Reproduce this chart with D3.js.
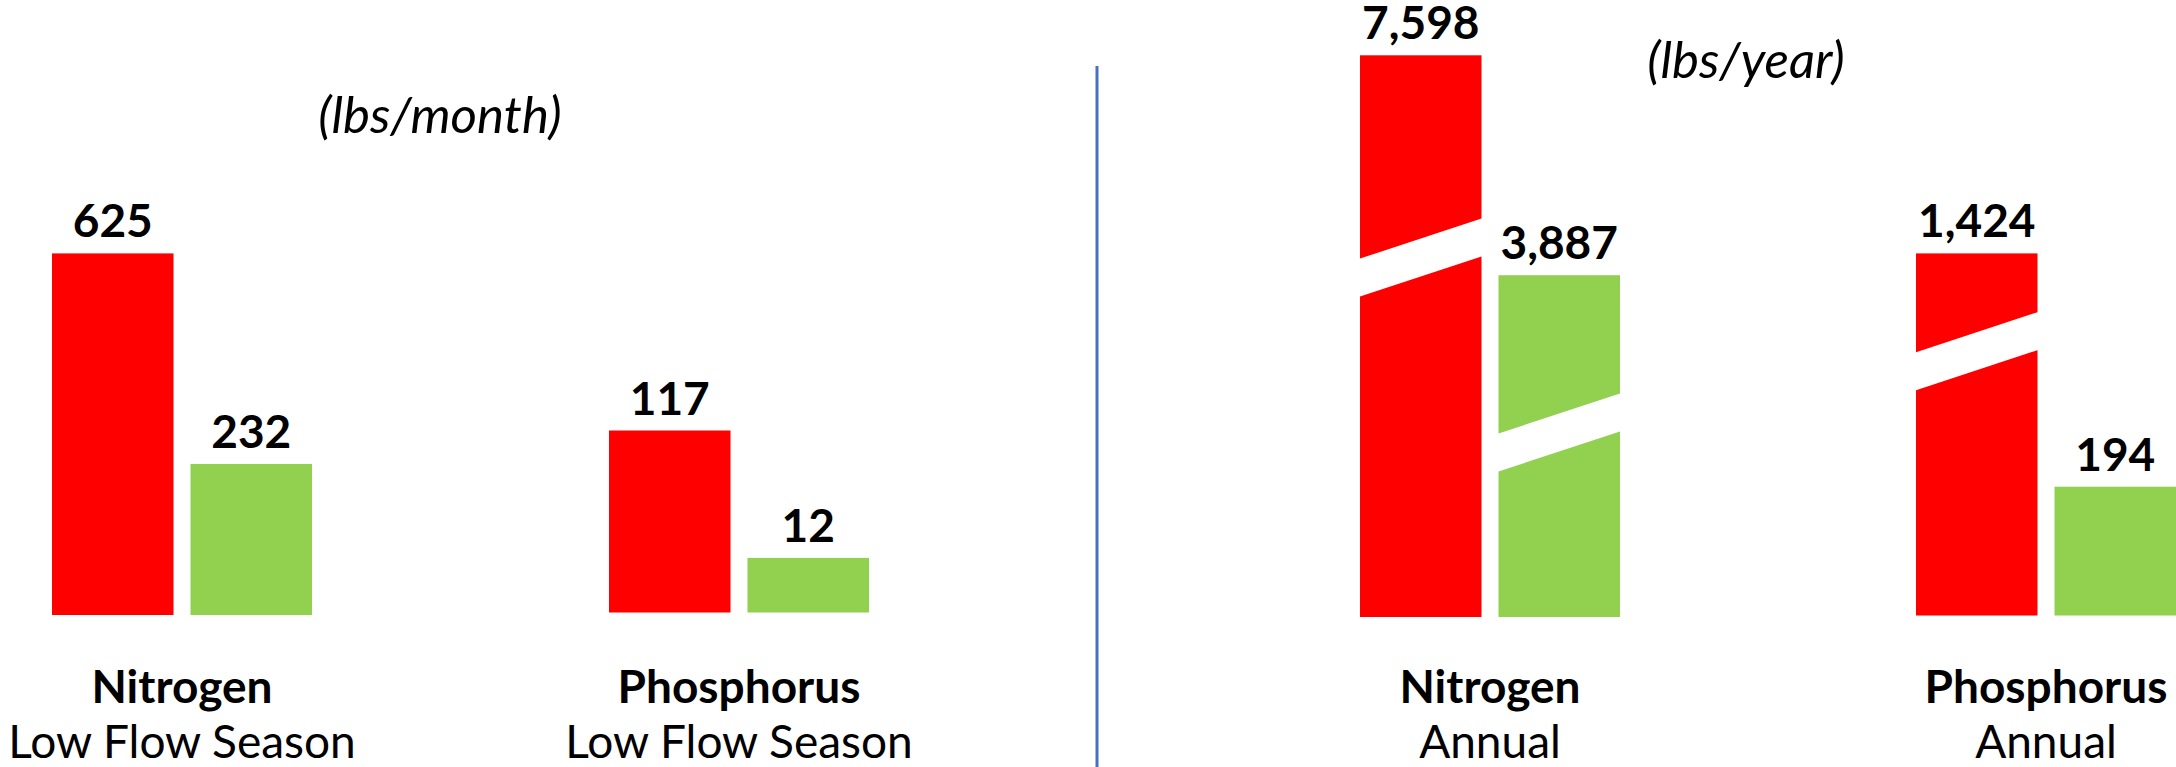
<!DOCTYPE html>
<html>
<head>
<meta charset="utf-8">
<script src="https://cdn.jsdelivr.net/npm/d3@7"></script>
<style>
  html, body { margin: 0; padding: 0; background: #ffffff; }
  svg { display: block; }
  text { font-family: Lato, "Open Sans", sans-serif; fill: #000000; }
</style>
</head>
<body>
<svg id="chart" width="2176" height="767"></svg>
<script>
// ---- data ----
const nutrients = ["Nitrogen", "Phosphorus"];
const series = ["baseline", "reduced"];
const lowFlowNitrogen = [625, 232];
const lowFlowPhosphorus = [117, 12];
const annualNitrogen = [7598, 3887];
const annualPhosphorus = [1424, 194];
const periodLabels = ["Low Flow Season", "Annual"];
const unitLabels = ["(lbs/month)", "(lbs/year)"];
const seriesColors = ["#FF0000", "#92D050"];

// ---- layout ----
const W = 2176, H = 767;
const svg = d3.select("#chart");

// each nutrient group has its own (not-to-scale) value axis; the floor sits
// below zero so the smaller loads still get a readable bar
const panels = [
  {
    values: [lowFlowNitrogen, lowFlowPhosphorus],
    period: periodLabels[0],
    unit: unitLabels[0],
    centers: [182, 739],
    floors: [-50, -33],
    bases: [615, 612.5],
    tops: [253.4, 430.5],
    breaks: [[null, null], [null, null]],
    unitPos: [440, 133]
  },
  {
    values: [annualNitrogen, annualPhosphorus],
    period: periodLabels[1],
    unit: unitLabels[1],
    centers: [1490, 2046],
    floors: [-1880, -485],
    bases: [617, 615.5],
    tops: [55.3, 253.4],
    // relative height of the axis-break cut on the broken bars
    breaks: [[0.64, 0.54], [0.73, null]],
    unitPos: [1746, 78]
  }
];

const fmt = d3.format(",");
const color = d3.scaleOrdinal().domain(series).range(seriesColors);

// bar placement within a group
const inner = d3.scaleBand().domain(series).range([-130, 130]).paddingInner(0.1227).paddingOuter(0);

panels.forEach(p => {
  const x = d3.scalePoint().domain(nutrients).range(p.centers).padding(0);

  nutrients.forEach((nut, gi) => {
    const vals = p.values[gi];
    const y = d3.scaleLinear()
      .domain([p.floors[gi], d3.max(vals)])
      .range([p.bases[gi], p.tops[gi]]);
    const g = svg.append("g").attr("transform", `translate(${x(nut)},0)`);

    const rows = series.map((s, i) => ({ s, v: vals[i], brk: p.breaks[gi][i] }));

    g.selectAll("rect.bar").data(rows).join("rect")
      .attr("class", "bar")
      .attr("x", d => inner(d.s))
      .attr("width", inner.bandwidth())
      .attr("y", d => y(d.v))
      .attr("height", d => y.range()[0] - y(d.v))
      .attr("fill", d => color(d.s));

    // slanted white cut marking a broken bar
    const thick = 38, slope = 0.33;
    g.selectAll("path.cut").data(rows.filter(d => d.brk != null)).join("path")
      .attr("class", "cut")
      .attr("fill", "#ffffff")
      .attr("d", d => {
        const x0 = inner(d.s) - 3, x1 = inner(d.s) + inner.bandwidth() + 3;
        const xm = inner(d.s) + inner.bandwidth() / 2;
        const base = y.range()[0];
        const yc = base - d.brk * (base - y(d.v));
        const cy = xx => yc - slope * (xx - xm);
        return d3.line()([
          [x0, cy(x0) - thick / 2], [x1, cy(x1) - thick / 2],
          [x1, cy(x1) + thick / 2], [x0, cy(x0) + thick / 2]
        ]) + "Z";
      });

    g.selectAll("text.val").data(rows).join("text")
      .attr("class", "val")
      .attr("x", d => inner(d.s) + inner.bandwidth() / 2)
      .attr("y", d => y(d.v) - 16)
      .attr("text-anchor", "middle")
      .attr("font-size", 46)
      .attr("font-weight", 700)
      .text(d => fmt(d.v));

    g.append("text")
      .attr("x", 0).attr("y", 703)
      .attr("text-anchor", "middle")
      .attr("font-size", 46)
      .attr("font-weight", 700)
      .text(nut);

    g.append("text")
      .attr("x", 0).attr("y", 758)
      .attr("text-anchor", "middle")
      .attr("font-size", 46)
      .text(p.period);
  });

  svg.append("text")
    .attr("x", p.unitPos[0]).attr("y", p.unitPos[1])
    .attr("text-anchor", "middle")
    .attr("font-size", 51)
    .attr("font-style", "italic")
    .text(p.unit);
});

// divider between the two panels
svg.append("line")
  .attr("x1", 1097).attr("x2", 1097)
  .attr("y1", 66).attr("y2", H)
  .attr("stroke", "#4472C4")
  .attr("stroke-width", 3);
</script>
</body>
</html>
